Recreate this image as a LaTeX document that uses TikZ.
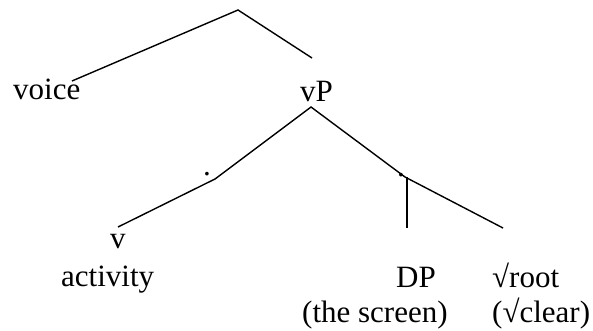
\documentclass[tikz,border=0pt]{standalone}
\usepackage{fontspec}
\setmainfont{Liberation Serif}
\begin{document}
\begin{tikzpicture}[x=1pt,y=-1pt,
  lbl/.style={inner sep=0pt, anchor=base west, font=\fontsize{31}{36}\selectfont},
  dotlbl/.style={inner sep=0pt, anchor=base, font=\fontsize{31}{36}\selectfont},
  edge/.style={line width=1.4pt, line cap=butt, line join=miter}]
\useasboundingbox (0,0) rectangle (593,331);
% labels
\node[lbl] (voice) at (13,100) {voice};
\node[lbl] (vP) at (300,102) {vP};
\node[lbl] (v) at (110,248) {v};
\node[lbl] (activity) at (61,286) {activity};
\node[lbl] (DP) at (396,287) {DP};
\node[lbl] (screen) at (302,322) {(the screen)};
\node[lbl] (root) at (492,287) {√root};
\node[lbl] (clear) at (492,322) {(√clear)};
\node[dotlbl] (dotL) at (207,175.5) {.};
\node[dotlbl] (dotR) at (401,176) {.};
% joints
\coordinate (top) at (238,10);
\coordinate (voiceT) at (72,81);
\coordinate (vPT) at (312,58);
\coordinate (vPB) at (311,107);
\coordinate (kL) at (215,179);
\coordinate (vT) at (118,227);
\coordinate (kR) at (405,177);
\coordinate (dpTop) at (407,177);
\coordinate (dpT) at (407,228);
\coordinate (rootT) at (503,228);
% edges
\draw[edge] (voiceT) -- (top) -- (vPT);
\draw[edge] (vT) -- (kL) -- (vPB) -- (kR) -- (rootT);
\draw[edge] (dpTop) -- (dpT);
\end{tikzpicture}
\end{document}
